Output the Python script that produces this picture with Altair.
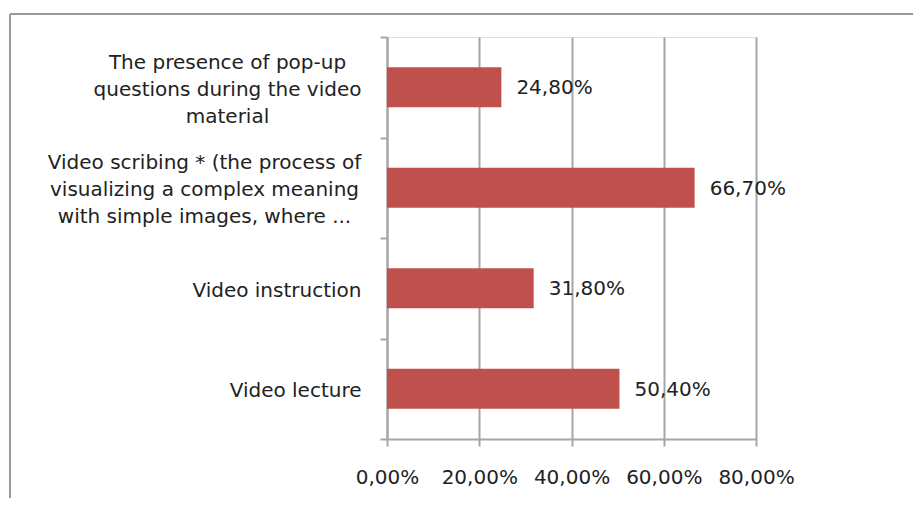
import altair as alt
import pandas as pd

categories = [
    "The presence of pop-up\nquestions during the video\nmaterial",
    "Video scribing * (the process of\nvisualizing a complex meaning\nwith simple images, where ...",
    "Video instruction ",
    "Video lecture",
]
values = [24.8, 66.7, 31.8, 50.4]
x_ticks = [0, 20, 40, 60, 80]

df = pd.DataFrame({"category": categories, "value": values})

FONT = "DejaVu Sans"
FS = 20
TEXT = "#222222"
GRID = "#a6a6a6"
BAR = "#C0504D"

common = dict(
    orient="left",
    labelLimit=0,
    labelFont=FONT,
    labelFontSize=FS,
    labelColor=TEXT,
    labelLineHeight=27,
    labelOverlap=False,
    grid=False,
    title=None,
    tickBand="extent",
    tickSize=7,
)

# main axis: domain, ticks and single-line labels (trailing space kept visible)
axis_main = alt.Axis(
    labelExpr=(
        "indexof(datum.label, '\\n') >= 0 ? '' : "
        "(substring(datum.label, length(datum.label) - 1) == ' ' ? "
        "substring(datum.label, 0, length(datum.label) - 1) + '\u00a0' : datum.label)"
    ),
    labelAlign="right",
    labelPadding=19,
    labelOffset=2,
    tickColor=GRID,
    tickWidth=2,
    domainColor=GRID,
    domainWidth=2,
    **common,
)


def block_axis(key, pad):
    return alt.Axis(
        labelExpr=f"indexof(datum.label, '{key}') >= 0 ? split(datum.label, '\\n') : ''",
        labelAlign="center",
        labelPadding=pad,
        labelOffset=-25,
        domain=False,
        tickOpacity=0,
        **common,
    )


scale_y = alt.Scale(paddingInner=0, paddingOuter=0)

x_enc = alt.X(
    "value:Q",
    title=None,
    scale=alt.Scale(domain=[0, 80], nice=False),
    axis=alt.Axis(
        values=x_ticks,
        labelExpr="replace(format(datum.value, '.2f'), '.', ',') + '%'",
        labelFont=FONT,
        labelFontSize=FS,
        labelColor=TEXT,
        labelPadding=21,
        labelOverlap=False,
        labelFlush=False,
        tickSize=7,
        tickColor=GRID,
        tickWidth=2,
        domainColor=GRID,
        domainWidth=2,
        grid=True,
        gridColor=GRID,
        gridWidth=2,
    ),
)

base = alt.Chart(df)

bars = base.mark_bar(height={"band": 0.4}, color=BAR).encode(
    x=x_enc,
    y=alt.Y("category:N", sort=None, scale=scale_y, axis=axis_main),
)

labels = base.transform_calculate(
    lbl="replace(format(datum.value, '.2f'), '.', ',') + '%'"
).mark_text(
    align="left", baseline="middle", dx=15, dy=1, font=FONT, fontSize=FS, color=TEXT
).encode(
    x="value:Q",
    y=alt.Y("category:N", sort=None, axis=block_axis("presence", 153)),
    text="lbl:N",
)

ghost = base.mark_point(opacity=0).encode(
    x="value:Q",
    y=alt.Y("category:N", sort=None, axis=block_axis("scribing", 176)),
)

frame_left = base.transform_filter("datum.value == 24.8").mark_rule(
    color="#999999", strokeWidth=2
).encode(x=alt.value(-377), y=alt.value(-23), y2=alt.value(480))

frame_top = base.transform_filter("datum.value == 24.8").mark_rule(
    color="#999999", strokeWidth=2
).encode(x=alt.value(-377), x2=alt.value(560), y=alt.value(-23))

chart = (
    alt.layer(frame_left, frame_top, bars, labels, ghost)
    .resolve_axis(y="independent")
    .properties(
        width=369,
        height=402,
        autosize=alt.AutoSizeParams(type="none"),
        padding={"left": 379, "top": 29, "right": 157, "bottom": 59},
    )
    .configure_view(stroke="transparent", strokeWidth=0)
    .configure(background="white")
)

chart.save("out.html", embed_options={"renderer": "svg", "actions": False})
